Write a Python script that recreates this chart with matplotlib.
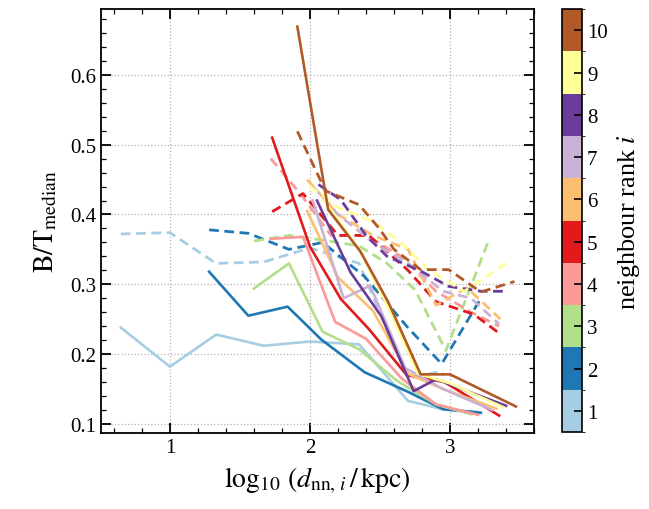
import numpy as np
import matplotlib
matplotlib.use('Agg')
import matplotlib.pyplot as plt
from matplotlib import colors, cm

plt.rcParams['font.family'] = ['Liberation Serif', 'DejaVu Serif']
plt.rcParams['mathtext.fontset'] = 'stix'

ranks = [1, 2, 3, 4, 5, 6, 7, 8, 9, 10]

# median B/T, solid lines
x_solid = [
    [0.65, 1.0, 1.33, 1.67, 2.0, 2.35, 2.7, 2.95, 3.2],
    [1.28, 1.56, 1.84, 2.08, 2.39, 2.7, 2.95, 3.22],
    [1.6, 1.85, 2.09, 2.35, 2.62, 2.9, 3.15],
    [1.72, 1.95, 2.18, 2.4, 2.65, 2.9, 3.2],
    [1.73, 2.0, 2.22, 2.42, 2.69, 2.96, 3.35],
    [1.98, 2.2, 2.45, 2.7, 2.95, 3.33],
    [2.02, 2.24, 2.43, 2.68, 2.95, 3.3],
    [2.05, 2.29, 2.51, 2.74, 2.9, 3.4],
    [2.1, 2.35, 2.55, 2.77, 3.0, 3.38],
    [1.91, 2.13, 2.36, 2.56, 2.79, 3.0, 3.47],
]
y_solid = [
    [0.238, 0.182, 0.228, 0.212, 0.218, 0.214, 0.133, 0.121, 0.117],
    [0.318, 0.255, 0.268, 0.221, 0.174, 0.146, 0.121, 0.116],
    [0.294, 0.33, 0.232, 0.207, 0.162, 0.128, 0.114],
    [0.365, 0.368, 0.246, 0.222, 0.166, 0.128, 0.113],
    [0.51, 0.354, 0.279, 0.236, 0.17, 0.16, 0.112],
    [0.405, 0.31, 0.262, 0.172, 0.15, 0.122],
    [0.42, 0.28, 0.298, 0.18, 0.15, 0.12],
    [0.42, 0.317, 0.254, 0.147, 0.164, 0.126],
    [0.42, 0.35, 0.27, 0.172, 0.158, 0.124],
    [0.669, 0.407, 0.347, 0.274, 0.171, 0.171, 0.125],
]

# dashed lines
x_dash = [
    [0.65, 1.0, 1.33, 1.67, 2.0, 2.35, 2.7, 2.95],
    [1.28, 1.56, 1.85, 2.09, 2.39, 2.69, 2.94, 3.22],
    [1.6, 1.85, 2.1, 2.35, 2.55, 2.75, 2.97, 3.27],
    [1.72, 1.93, 2.15, 2.4, 2.65, 2.9, 3.15, 3.35],
    [1.73, 1.95, 2.2, 2.42, 2.7, 2.9, 3.17, 3.35],
    [1.98, 2.2, 2.45, 2.7, 2.9, 3.12, 3.36],
    [2.02, 2.2, 2.45, 2.7, 2.95, 3.15, 3.35],
    [2.06, 2.22, 2.4, 2.55, 2.79, 2.99, 3.22, 3.4],
    [2.0, 2.2, 2.45, 2.65, 2.85, 3.1, 3.4],
    [1.91, 2.11, 2.35, 2.49, 2.6, 2.79, 2.99, 3.22, 3.46],
]
y_dash = [
    [0.372, 0.374, 0.33, 0.332, 0.352, 0.33, 0.165, 0.176],
    [0.378, 0.373, 0.35, 0.36, 0.311, 0.24, 0.186, 0.28],
    [0.362, 0.37, 0.363, 0.355, 0.33, 0.292, 0.205, 0.36],
    [0.48, 0.43, 0.37, 0.37, 0.34, 0.29, 0.26, 0.24],
    [0.404, 0.43, 0.37, 0.37, 0.32, 0.275, 0.257, 0.23],
    [0.45, 0.4, 0.37, 0.35, 0.27, 0.295, 0.25],
    [0.44, 0.4, 0.36, 0.33, 0.29, 0.28, 0.243],
    [0.443, 0.421, 0.37, 0.34, 0.319, 0.297, 0.29, 0.29],
    [0.44, 0.41, 0.39, 0.36, 0.32, 0.29, 0.33],
    [0.519, 0.434, 0.414, 0.381, 0.35, 0.321, 0.321, 0.289, 0.304],
]

cmap = plt.get_cmap('Paired', 10)
norm = colors.BoundaryNorm(np.arange(0.5, 11.5, 1), cmap.N)

fig = plt.figure(figsize=(6.49, 5.10), dpi=100)
ax = fig.add_axes([0.156, 0.149, 0.667, 0.831])
cax = fig.add_axes([0.866, 0.151, 0.031, 0.829])

for i, r in enumerate(ranks):
    c = cmap(norm(r))
    ax.plot(x_dash[i], y_dash[i], color=c, lw=2.0, ls=(0, (3.5, 2)))
for i, r in enumerate(ranks):
    c = cmap(norm(r))
    ax.plot(x_solid[i], y_solid[i], color=c, lw=1.9)

ax.set_xlim(0.51, 3.6)
ax.set_ylim(0.087, 0.694)
ax.set_xticks([1, 2, 3])
ax.set_yticks([0.1, 0.2, 0.3, 0.4, 0.5, 0.6])
ax.set_xticks(np.arange(0.6, 3.61, 0.2), minor=True)
ax.set_yticks(np.arange(0.1, 0.69, 0.02), minor=True)
ax.grid(True, which='major', ls=':', color='0.7', lw=0.9)
ax.tick_params(which='both', direction='in', top=True, right=True, labelsize=15)
ax.tick_params(which='major', length=7, width=1.3)
ax.tick_params(which='minor', length=3.5, width=0.9)
for s in ax.spines.values():
    s.set_linewidth(1.3)

ax.set_xlabel(r'$\log_{10}\,(d_{\mathrm{nn},\,i}\,/\,\mathrm{kpc})$', fontsize=20, labelpad=6)
ax.set_ylabel(r'$\mathrm{B/T}_{\mathrm{median}}$', fontsize=20, labelpad=8)

sm = cm.ScalarMappable(cmap=cmap, norm=norm)
cb = fig.colorbar(sm, cax=cax, ticks=ranks)
cb.ax.tick_params(direction='in', length=6, width=1.2, labelsize=15)
cb.outline.set_linewidth(1.2)
cb.set_label(r'neighbour rank $i$', fontsize=19, labelpad=5)

fig.savefig('out.png', dpi=100)
